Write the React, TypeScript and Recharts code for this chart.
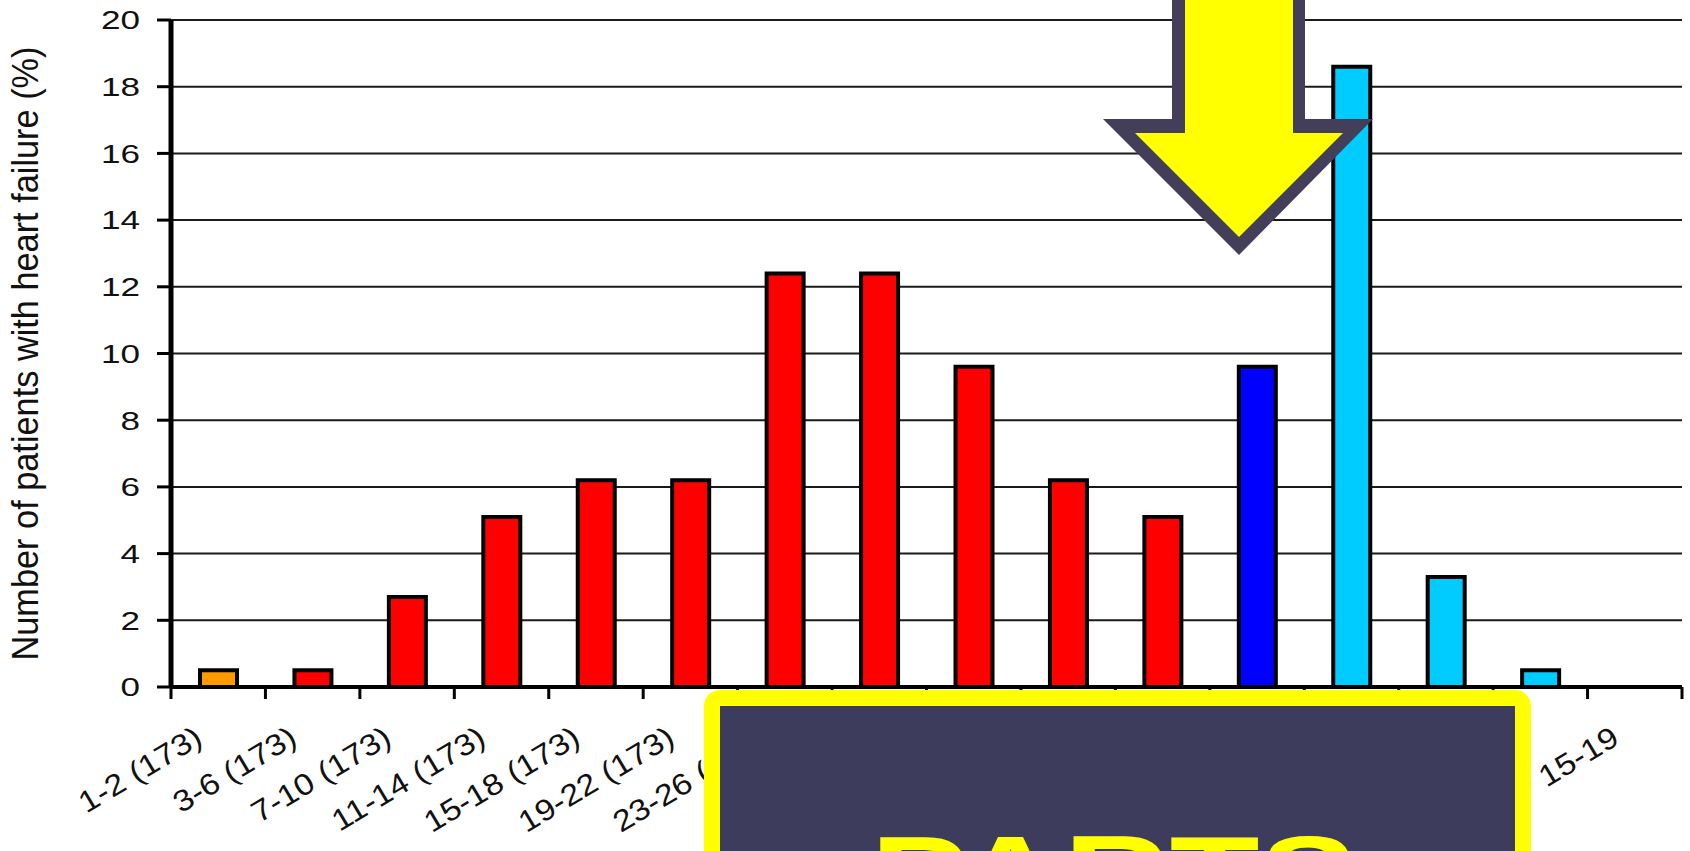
import React from 'react'
import { BarChart, Bar, Cell, XAxis, YAxis, CartesianGrid } from 'recharts'

const categories = [
  '1-2 (173)', '3-6 (173)', '7-10 (173)', '11-14 (173)', '15-18 (173)', '19-22 (173)',
  '23-26 (173)', '27-30 (173)', '31-34 (173)', '35-38 (173)', '39-42 (173)', 'Delivery',
  'PP 1-4', 'PP 5-9', 'PP 10-14', 'PP 15-19'
]
const heartFailurePct = [0.5, 0.5, 2.7, 5.1, 6.2, 6.2, 12.4, 12.4, 9.6, 6.2, 5.1, 9.6, 18.6, 3.3, 0.5, null]
const phases = [
  'early', 'pregnancy', 'pregnancy', 'pregnancy', 'pregnancy', 'pregnancy', 'pregnancy',
  'pregnancy', 'pregnancy', 'pregnancy', 'pregnancy', 'delivery',
  'postpartum', 'postpartum', 'postpartum', 'postpartum'
]
const yTicks = [0, 2, 4, 6, 8, 10, 12, 14, 16, 18, 20]

const phaseColor: Record<string, string> = {
  early: '#ff9900',
  pregnancy: '#ff0000',
  delivery: '#0000ff',
  postpartum: '#00ccff'
}

const rows = categories.map((label, i) => ({ label, pct: heartFailurePct[i], phase: phases[i] }))

const FONT = '"Liberation Sans", Arial, sans-serif'

// category labels sit slanted under each bar, tick marks go on the band edges
function CategoryTick(props: any) {
  const { x, y, payload, index, width, visibleTicksCount } = props
  const half = payload.offset || width / visibleTicksCount / 2
  const last = index === visibleTicksCount - 1
  return (
    <g>
      <line x1={x - half} x2={x - half} y1={y} y2={y + 12} stroke="#000" strokeWidth={3} />
      {last && <line x1={x + half} x2={x + half} y1={y} y2={y + 12} stroke="#000" strokeWidth={3} />}
      <g transform={`translate(${x - 14},${y + 56}) rotate(-31) scale(1.13,1)`}>
        <text textAnchor="end" fontSize={30} fill="#111" fontFamily={FONT}>
          {payload.value}
        </text>
      </g>
    </g>
  )
}

function ValueTick({ x, y, payload }: any) {
  return (
    <text
      transform={`translate(${x},${y}) scale(1.35,1)`}
      textAnchor="end"
      dy="0.36em"
      fontSize={26}
      fill="#111"
      fontFamily={FONT}
    >
      {payload.value}
    </text>
  )
}

function AxisTitle({ viewBox }: any) {
  const cy = viewBox.y + viewBox.height / 2
  return (
    <g transform={`translate(38,${cy}) scale(1.25,1) rotate(-90)`}>
      <text
        textAnchor="middle"
        fontSize={30}
        fill="#111"
        fontFamily={FONT}
        textLength={614}
        lengthAdjust="spacingAndGlyphs"
      >
        Number of patients with heart failure (%)
      </text>
    </g>
  )
}

export default function App() {
  return (
    <div style={{ position: 'absolute', left: 0, top: 0, width: 1690, height: 851, background: '#fff', overflow: 'hidden' }}>
      <BarChart
        width={1690}
        height={851}
        data={rows}
        margin={{ top: 20, right: 8, bottom: 0, left: 0 }}
        barSize={37}
      >
        <CartesianGrid vertical={false} stroke="#1a1a1a" strokeWidth={2} />
        <XAxis
          dataKey="label"
          interval={0}
          height={164}
          tickSize={0}
          tickMargin={0}
          tickLine={false}
          axisLine={{ stroke: '#000', strokeWidth: 4 }}
          tick={<CategoryTick />}
        />
        <YAxis
          width={171}
          domain={[0, 20]}
          ticks={yTicks}
          interval={0}
          tickSize={14}
          tickMargin={17}
          axisLine={{ stroke: '#000', strokeWidth: 5 }}
          tickLine={{ stroke: '#000', strokeWidth: 3 }}
          tick={<ValueTick />}
          label={<AxisTitle />}
        />
        <Bar dataKey="pct" stroke="#000" strokeWidth={4} isAnimationActive={false}>
          {rows.map((r) => (
            <Cell key={r.label} fill={phaseColor[r.phase]} />
          ))}
        </Bar>
      </BarChart>

      {/* callout arrow and caption panel drawn over the chart */}
      <svg
        width={1690}
        height={851}
        style={{ position: 'absolute', left: 0, top: 0, pointerEvents: 'none' }}
      >
        <polygon
          points="1172,-10 1305,-10 1305,119 1373,119 1239,255 1103,119 1172,119"
          fill="#433f5b"
        />
        <polygon
          points="1185,-10 1293,-10 1293,133 1343,133 1239,237 1135,133 1185,133"
          fill="#ffff00"
        />
        <rect x={712} y={698} width={811} height={400} rx={8} fill="#3e3c5c" stroke="#ffff00" strokeWidth={16} />
        <g transform="translate(1114,915) scale(1.3,1)">
          <text textAnchor="middle" fontSize={113} fontWeight="bold" fill="#ffff00" fontFamily={FONT}>
            PARTS
          </text>
        </g>
      </svg>
    </div>
  )
}
